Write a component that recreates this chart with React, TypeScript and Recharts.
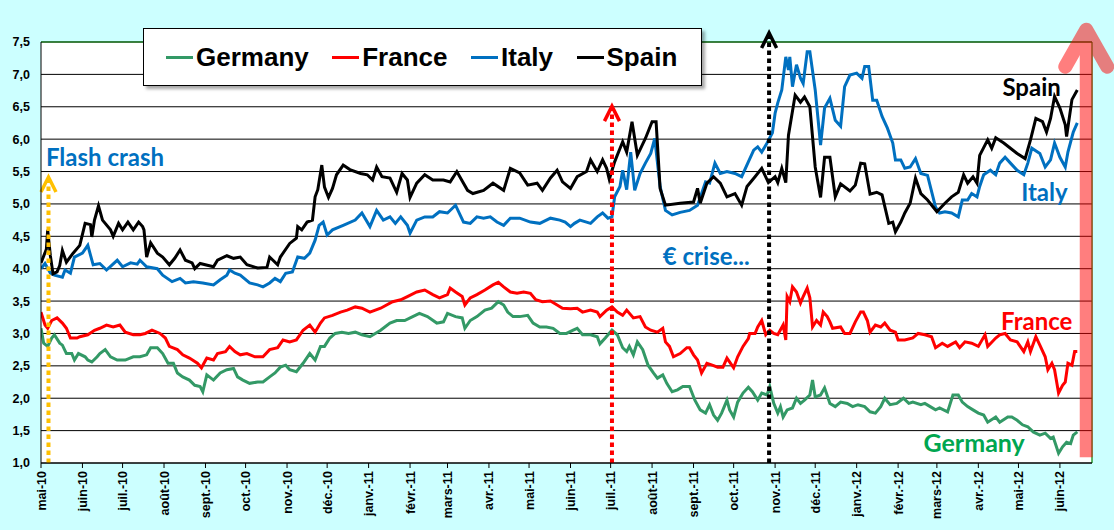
import React from 'react';
import { LineChart, Line, XAxis, YAxis, CartesianGrid, ReferenceLine, ReferenceDot } from 'recharts';

// x values: days since 1 May 2010
const monthDays = [0, 31, 61, 92, 123, 153, 184, 214, 245, 276, 304, 335, 365, 396, 426, 457, 488, 518, 549, 579, 610, 641, 670, 701, 731, 762];
const monthLabels = ['mai-10', 'juin-10', 'juil.-10', 'août-10', 'sept.-10', 'oct.-10', 'nov.-10', 'déc.-10', 'janv.-11', 'févr.-11', 'mars-11', 'avr.-11', 'mai-11', 'juin-11', 'juil.-11', 'août-11', 'sept.-11', 'oct.-11', 'nov.-11', 'déc.-11', 'janv.-12', 'févr.-12', 'mars-12', 'avr.-12', 'mai-12', 'juin-12'];
const yTicks = [1, 1.5, 2, 2.5, 3, 3.5, 4, 4.5, 5, 5.5, 6, 6.5, 7, 7.5];

const spain: [number, number][] = [[0,4.09],[4,4.3],[5,4.6],[7,4.2],[9,3.92],[12,3.95],[14,4.05],[16,4.28],[19,4.1],[24,4.24],[29,4.36],[33,4.7],[37,4.68],[38,4.49],[40,4.75],[43,4.97],[46,4.75],[52,4.6],[54,4.5],[58,4.7],[61,4.6],[65,4.72],[69,4.6],[73,4.72],[76,4.65],[77,4.6],[79,4.18],[82,4.4],[87,4.24],[91,4.18],[96,4.06],[100,4.16],[104,4.29],[108,4.13],[113,4.09],[115,4.0],[119,4.08],[129,4.03],[132,4.13],[139,4.2],[144,4.16],[149,4.18],[154,4.06],[162,4.01],[169,4.02],[171,4.18],[177,4.06],[179,4.18],[186,4.39],[191,4.47],[192,4.65],[195,4.6],[199,4.72],[203,4.75],[205,5.11],[207,5.22],[210,5.6],[212,5.26],[215,5.1],[218,5.24],[221,5.45],[226,5.6],[231,5.53],[239,5.47],[244,5.45],[248,5.37],[251,5.57],[255,5.42],[261,5.4],[266,5.18],[270,5.47],[274,5.37],[276,5.1],[281,5.32],[287,5.45],[293,5.37],[301,5.37],[306,5.34],[311,5.5],[319,5.21],[323,5.16],[331,5.21],[338,5.32],[346,5.21],[351,5.55],[358,5.48],[364,5.29],[371,5.32],[375,5.21],[381,5.4],[386,5.52],[390,5.34],[396,5.24],[401,5.42],[408,5.5],[411,5.68],[416,5.5],[420,5.68],[423,5.55],[425,5.38],[429,5.65],[435,5.96],[438,5.8],[442,6.27],[446,5.75],[452,6.01],[457,6.27],[460,6.27],[463,5.24],[467,4.98],[478,5.01],[488,5.03],[491,5.24],[493,5.01],[498,5.32],[503,5.42],[508,5.32],[513,5.11],[519,5.16],[524,4.98],[528,5.27],[534,5.42],[539,5.55],[544,5.33],[549,5.42],[551,5.33],[554,5.55],[557,5.33],[559,6.06],[564,6.68],[568,6.57],[571,6.65],[575,6.5],[579,5.57],[583,5.1],[586,5.72],[590,5.72],[594,5.11],[598,5.31],[605,5.2],[609,5.29],[613,5.63],[616,5.62],[620,5.15],[625,5.18],[629,5.14],[634,4.7],[637,4.72],[639,4.57],[643,4.72],[646,4.86],[650,5.01],[654,5.4],[658,5.16],[663,5.06],[670,4.88],[676,5.01],[681,5.11],[686,5.18],[690,5.45],[693,5.32],[697,5.42],[700,5.32],[702,5.75],[708,5.99],[711,5.86],[714,6.02],[720,5.94],[725,5.86],[730,5.78],[736,5.7],[740,5.99],[744,6.32],[749,6.27],[752,6.11],[755,6.32],[758,6.66],[762,6.48],[766,6.22],[767,6.04],[771,6.61],[775,6.76]];

const italy: [number, number][] = [[0,4.0],[3,4.08],[7,3.93],[10,3.9],[16,3.87],[18,3.98],[22,3.93],[25,4.18],[31,4.24],[35,4.36],[39,4.06],[44,4.08],[49,3.98],[57,4.13],[61,4.03],[67,4.09],[72,4.07],[74,4.13],[79,4.03],[87,4.0],[91,3.9],[98,3.8],[104,3.85],[108,3.78],[114,3.8],[121,3.78],[129,3.75],[134,3.83],[139,3.9],[141,3.98],[145,3.93],[149,3.9],[156,3.78],[162,3.75],[166,3.72],[171,3.78],[175,3.85],[179,3.8],[183,3.93],[188,3.95],[192,4.18],[197,4.16],[201,4.24],[205,4.44],[208,4.67],[211,4.72],[214,4.52],[218,4.6],[226,4.67],[235,4.75],[240,4.86],[246,4.65],[251,4.9],[256,4.75],[261,4.8],[265,4.7],[269,4.8],[274,4.67],[276,4.55],[281,4.75],[287,4.8],[293,4.8],[298,4.88],[304,4.86],[310,4.98],[316,4.72],[321,4.7],[326,4.8],[331,4.78],[336,4.8],[341,4.72],[346,4.67],[351,4.78],[358,4.78],[366,4.72],[373,4.7],[381,4.78],[388,4.75],[392,4.72],[396,4.65],[399,4.7],[403,4.75],[411,4.7],[416,4.8],[420,4.86],[424,4.78],[427,4.8],[429,5.11],[433,5.27],[435,5.52],[438,5.22],[441,5.8],[444,5.21],[448,5.47],[452,5.63],[456,5.78],[459,6.01],[463,5.27],[467,4.9],[472,4.83],[478,4.87],[485,4.9],[491,4.98],[497,5.34],[500,5.32],[504,5.63],[508,5.47],[513,5.5],[519,5.47],[524,5.42],[529,5.65],[533,5.83],[536,5.88],[539,5.8],[543,5.94],[547,6.1],[549,6.4],[551,6.56],[554,6.76],[557,7.27],[559,7.07],[560,7.27],[562,6.81],[565,7.15],[568,6.94],[570,6.86],[573,7.35],[575,7.35],[579,6.76],[583,5.91],[586,6.48],[590,6.63],[594,6.29],[598,6.2],[601,6.81],[605,6.99],[610,7.02],[614,6.94],[616,7.12],[619,7.12],[622,6.6],[625,6.6],[629,6.35],[633,6.17],[637,5.94],[639,5.68],[643,5.68],[646,5.55],[650,5.57],[654,5.7],[658,5.47],[663,5.44],[669,4.95],[672,4.86],[676,4.88],[681,4.86],[686,4.8],[689,5.06],[693,5.06],[696,5.16],[700,5.11],[702,5.27],[705,5.45],[710,5.52],[714,5.45],[717,5.63],[721,5.72],[725,5.63],[730,5.52],[735,5.45],[738,5.63],[741,5.86],[747,5.78],[751,5.57],[755,5.68],[758,5.94],[762,5.72],[766,5.57],[768,5.8],[772,6.11],[775,6.25]];

const france: [number, number][] = [[0,3.33],[3,3.13],[5,3.08],[8,3.2],[12,3.24],[16,3.16],[19,3.08],[22,2.93],[27,2.93],[29,2.95],[35,2.98],[40,3.05],[44,3.08],[49,3.13],[54,3.1],[59,3.13],[63,3.02],[69,2.98],[74,2.98],[78,3.0],[83,3.05],[89,3.0],[93,2.93],[96,2.8],[102,2.75],[106,2.67],[111,2.62],[117,2.54],[120,2.47],[124,2.62],[129,2.59],[132,2.69],[138,2.72],[141,2.8],[145,2.72],[149,2.67],[154,2.69],[160,2.64],[166,2.64],[171,2.75],[177,2.78],[181,2.9],[186,2.87],[191,2.9],[196,3.05],[201,3.13],[205,3.02],[209,3.16],[212,3.24],[218,3.28],[224,3.33],[229,3.36],[235,3.41],[240,3.39],[246,3.33],[254,3.39],[263,3.49],[269,3.52],[274,3.57],[281,3.64],[287,3.67],[293,3.6],[298,3.55],[304,3.6],[306,3.7],[310,3.64],[315,3.57],[317,3.44],[321,3.55],[326,3.6],[332,3.67],[338,3.75],[342,3.79],[346,3.72],[351,3.64],[356,3.62],[361,3.64],[366,3.62],[370,3.52],[375,3.49],[381,3.5],[386,3.44],[390,3.39],[396,3.38],[401,3.39],[405,3.33],[411,3.36],[416,3.33],[418,3.26],[423,3.36],[427,3.41],[431,3.33],[435,3.28],[438,3.36],[443,3.24],[448,3.26],[452,3.1],[456,3.05],[461,3.02],[465,3.08],[467,2.87],[470,2.8],[473,2.64],[478,2.69],[483,2.78],[485,2.78],[488,2.67],[491,2.59],[494,2.39],[498,2.54],[502,2.51],[506,2.48],[510,2.48],[513,2.62],[518,2.47],[521,2.64],[525,2.8],[529,2.92],[530,3.0],[534,3.0],[536,3.1],[539,3.2],[542,2.98],[545,3.05],[548,3.0],[551,2.98],[555,3.13],[557,2.9],[558,3.57],[560,3.49],[562,3.72],[565,3.64],[568,3.47],[570,3.57],[573,3.7],[575,3.55],[577,3.1],[580,3.2],[583,3.13],[585,3.33],[588,3.26],[590,3.18],[592,3.08],[598,3.1],[601,3.0],[605,3.0],[609,3.18],[613,3.33],[615,3.33],[618,3.2],[620,3.02],[624,3.13],[628,3.1],[631,3.16],[635,3.05],[639,3.02],[641,2.9],[646,2.9],[652,2.93],[656,3.0],[661,2.98],[666,2.95],[669,2.78],[674,2.85],[678,2.8],[684,2.87],[687,2.78],[691,2.87],[696,2.85],[701,2.8],[706,2.98],[708,2.8],[714,2.93],[717,2.98],[721,3.0],[725,2.9],[730,2.87],[735,2.72],[738,2.87],[740,2.72],[744,2.95],[747,2.82],[751,2.64],[753,2.44],[756,2.54],[758,2.44],[761,2.08],[764,2.2],[766,2.25],[768,2.54],[771,2.51],[773,2.72],[775,2.72]];

const germany: [number, number][] = [[0,3.08],[2,2.85],[5,2.8],[8,2.93],[10,2.98],[14,2.85],[16,2.82],[19,2.69],[23,2.69],[25,2.59],[28,2.69],[33,2.64],[35,2.59],[38,2.56],[42,2.64],[44,2.69],[48,2.75],[52,2.64],[57,2.59],[63,2.59],[69,2.64],[74,2.64],[79,2.67],[82,2.78],[87,2.78],[91,2.69],[95,2.54],[99,2.54],[102,2.39],[106,2.33],[111,2.28],[115,2.2],[119,2.18],[121,2.1],[124,2.36],[129,2.28],[134,2.39],[139,2.44],[144,2.46],[147,2.33],[151,2.28],[156,2.23],[162,2.25],[166,2.25],[171,2.33],[175,2.39],[179,2.48],[183,2.51],[186,2.44],[191,2.41],[196,2.54],[201,2.69],[205,2.59],[209,2.8],[212,2.8],[216,2.93],[220,3.0],[225,3.02],[230,3.0],[235,3.02],[240,2.98],[246,2.95],[254,3.05],[261,3.16],[266,3.2],[272,3.2],[278,3.26],[283,3.31],[289,3.26],[296,3.16],[301,3.18],[304,3.31],[310,3.26],[315,3.24],[317,3.08],[321,3.2],[326,3.26],[332,3.36],[337,3.39],[342,3.49],[346,3.44],[349,3.33],[353,3.26],[358,3.26],[364,3.28],[368,3.16],[373,3.1],[378,3.1],[383,3.08],[388,3.0],[393,3.0],[398,3.05],[401,3.08],[405,2.98],[411,2.98],[416,2.95],[418,2.84],[422,2.93],[427,3.05],[431,2.98],[435,2.78],[438,2.72],[440,2.8],[443,2.67],[446,2.87],[450,2.75],[454,2.51],[458,2.39],[461,2.31],[465,2.36],[468,2.23],[472,2.1],[476,2.13],[480,2.18],[485,2.18],[489,1.97],[493,1.82],[497,1.77],[500,1.9],[503,1.74],[506,1.66],[509,1.77],[513,1.97],[515,1.82],[518,1.71],[521,1.94],[525,2.08],[529,2.17],[532,2.1],[536,1.97],[539,2.08],[543,2.05],[545,2.18],[548,1.92],[551,1.77],[553,1.87],[555,1.71],[558,1.82],[562,1.85],[565,2.0],[568,1.92],[571,1.97],[575,2.05],[577,2.28],[579,2.02],[583,2.05],[586,2.16],[590,1.92],[594,1.87],[598,1.94],[603,1.92],[607,1.87],[611,1.9],[616,1.87],[620,1.79],[624,1.77],[628,1.87],[631,2.0],[635,1.9],[640,1.92],[645,2.0],[649,1.92],[652,1.94],[658,1.9],[661,1.92],[665,1.87],[669,1.82],[672,1.85],[678,1.79],[682,2.05],[686,2.05],[689,1.94],[693,1.87],[697,1.82],[701,1.77],[705,1.74],[708,1.63],[714,1.71],[717,1.63],[723,1.71],[726,1.71],[730,1.66],[734,1.59],[738,1.56],[742,1.48],[747,1.43],[751,1.46],[755,1.38],[757,1.4],[761,1.15],[764,1.25],[767,1.32],[770,1.3],[772,1.43],[775,1.48]];

const seriesNames = ['Germany', 'France', 'Italy', 'Spain'];
const seriesColors = ['#339966', '#FF0000', '#0070C0', '#000000'];
const seriesValues = [germany, france, italy, spain];

// events: day, top value of the dotted arrow, colour
const eventDays = [5.6, 427, 544.5];
const eventTops = [5.415, 6.51, 7.64];
const eventColors = ['#FFC000', '#FF0000', '#000000'];

const AXIS_FONT = "Arial, 'Liberation Sans', sans-serif";
const NOTE_FONT = "Lato, 'Open Sans', sans-serif";

const XTick = (props: any) => {
  const { x, y, payload } = props;
  const idx = monthDays.indexOf(payload.value);
  return (
    <g transform={`translate(${x},${y})`}>
      <text transform="rotate(-90)" textAnchor="end" dy="0.36em" fontSize={12.5} fontWeight="bold" fill="#000" fontFamily={AXIS_FONT}>
        {monthLabels[idx]}
      </text>
    </g>
  );
};

const dottedArrow = (color: string) => (p: any) => {
  const { x1, y1, x2, y2 } = p;
  return (
    <g>
      <line x1={x1} y1={y1} x2={x2} y2={y2 + 2} stroke={color} strokeWidth={4} strokeDasharray="4.5 3.5" />
      <polyline points={`${x2 - 7.5},${y2 + 15} ${x2},${y2} ${x2 + 7.5},${y2 + 15}`} fill="none" stroke={color} strokeWidth={3.5} />
    </g>
  );
};

const bigArrow = (p: any) => {
  const { x1, y1, x2, y2 } = p;
  return (
    <g opacity={0.5}>
      <line x1={x1} y1={y1} x2={x2} y2={y2 + 4} stroke="#FF0000" strokeWidth={13} />
      <polyline points={`${x2 - 21},${y2 + 37} ${x2},${y2} ${x2 + 21},${y2 + 37}`} fill="none" stroke="#FF0000" strokeWidth={14} strokeLinecap="round" strokeLinejoin="round" />
    </g>
  );
};

const note = (text: string, color: string, size: number) => (p: any) => (
  <text x={p.cx} y={p.cy} dy="0.35em" textAnchor="start" fill={color} fontSize={size} fontWeight="bold" fontFamily={NOTE_FONT}>
    {text}
  </text>
);

const ChartLegend = () => (
  <div
    style={{
      position: 'absolute', left: 143, top: 28, width: 559, height: 58, boxSizing: 'border-box',
      background: '#fff', border: '1.5px solid #000', boxShadow: '3px 3px 3px rgba(0,0,0,0.35)',
      display: 'flex', alignItems: 'center', paddingLeft: 22, fontFamily: AXIS_FONT,
    }}
  >
    {seriesNames.map((n, i) => (
      <div key={n} style={{ display: 'flex', alignItems: 'center', marginRight: 23.5 }}>
        <div style={{ width: 27, height: 3, background: seriesColors[i], marginRight: 3 }} />
        <span style={{ fontSize: 26, fontWeight: 'bold', color: '#000', lineHeight: '30px' }}>{n}</span>
      </div>
    ))}
  </div>
);

export default function App() {
  return (
    <div style={{ position: 'absolute', left: 0, top: 0, width: 1114, height: 530, background: '#CCFFFF', overflow: 'hidden' }}>
      <LineChart width={1114} height={530} margin={{ top: 42, right: 22, bottom: 0, left: 0 }}>
        <CartesianGrid horizontal vertical={false} stroke="#000" strokeWidth={1} fill="#fff" fillOpacity={1} />
        <XAxis
          type="number"
          dataKey="d"
          domain={[0, 786]}
          ticks={monthDays}
          interval={0}
          height={67}
          allowDataOverflow
          tick={<XTick />}
          tickSize={5}
          tickMargin={3}
          axisLine={{ stroke: '#000', strokeWidth: 1 }}
          tickLine={{ stroke: '#000' }}
        />
        <YAxis
          type="number"
          domain={[1, 7.5]}
          ticks={yTicks}
          interval={0}
          width={41}
          allowDataOverflow
          tickLine={false}
          tickSize={0}
          tickMargin={11}
          axisLine={{ stroke: '#000', strokeWidth: 1 }}
          tick={{ fontSize: 12.5, fontWeight: 'bold', fill: '#000', fontFamily: AXIS_FONT }}
          tickFormatter={(v: number) => v.toFixed(1).replace('.', ',')}
        />
        <ReferenceLine y={7.5} stroke="#008000" strokeWidth={1.2} />
        <ReferenceLine x={786} stroke="#008000" strokeWidth={1.2} />
        {seriesValues.map((s, i) => (
          <Line
            key={seriesNames[i]}
            data={s.map(([d, v]) => ({ d, v }))}
            dataKey="v"
            name={seriesNames[i]}
            type="linear"
            stroke={seriesColors[i]}
            strokeWidth={3}
            dot={false}
            activeDot={false}
            isAnimationActive={false}
          />
        ))}
        {eventDays.map((d, i) => (
          <ReferenceLine
            key={'ev' + i}
            segment={[{ x: d, y: 1 }, { x: d, y: eventTops[i] }]}
            ifOverflow="visible"
            shape={dottedArrow(eventColors[i])}
          />
        ))}
        <ReferenceLine segment={[{ x: 781.7, y: 1.09 }, { x: 781.7, y: 7.69 }]} ifOverflow="visible" shape={bigArrow} />
        <ReferenceDot x={3.7} y={5.72} r={0} ifOverflow="visible" shape={note('Flash crash', '#0070C0', 24)} />
        <ReferenceDot x={465} y={4.18} r={0} ifOverflow="visible" shape={note('€ crise...', '#0070C0', 24)} />
        <ReferenceDot x={719} y={6.8} r={0} ifOverflow="visible" shape={note('Spain', '#000000', 24)} />
        <ReferenceDot x={733} y={5.18} r={0} ifOverflow="visible" shape={note('Italy', '#0070C0', 24)} />
        <ReferenceDot x={718} y={3.18} r={0} ifOverflow="visible" shape={note('France', '#FF0000', 24)} />
        <ReferenceDot x={660} y={1.31} r={0} ifOverflow="visible" shape={note('Germany', '#00A650', 25)} />
      </LineChart>
      <ChartLegend />
    </div>
  );
}
